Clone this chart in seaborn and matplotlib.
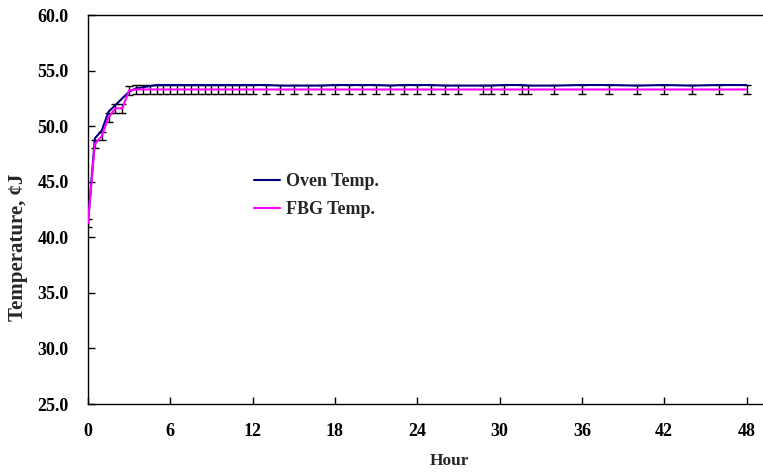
import numpy as np
import pandas as pd
import matplotlib
matplotlib.use('Agg')
import matplotlib.pyplot as plt
import seaborn as sns

# Readings taken off the reference chart
hours = [0, 0.5, 1.0, 1.5, 2.0, 2.5, 3.0, 3.5, 4.0, 4.5, 5.0, 5.5, 6.0, 6.5, 7.0,
         7.5, 8.0, 8.5, 9.0, 9.5, 10.0, 10.5, 11.0, 11.5, 12.0,
         13, 14, 15, 16, 17, 18, 19, 20, 21, 22, 23, 24, 25, 26, 27,
         28.8, 29.4, 30.3, 31.6, 32.1, 34, 36, 38, 40, 42, 44, 46, 48]

oven_temp = [41.3, 48.9, 49.6, 51.3, 51.9, 52.5, 53.1, 53.4, 53.5, 53.6, 53.7, 53.7, 53.7, 53.7, 53.7,
             53.7, 53.7, 53.7, 53.7, 53.7, 53.7, 53.7, 53.7, 53.7, 53.7,
             53.7, 53.65, 53.65, 53.65, 53.65, 53.7, 53.7, 53.7, 53.7, 53.65, 53.7, 53.7, 53.7, 53.65, 53.65,
             53.65, 53.65, 53.7, 53.7, 53.65, 53.65, 53.7, 53.7, 53.65, 53.7, 53.65, 53.7, 53.7]

fbg_temp = [41.3, 48.4, 49.1, 50.8, 51.6, 51.6, 53.2, 53.3, 53.3, 53.3, 53.3, 53.3, 53.3, 53.3, 53.3,
            53.3, 53.3, 53.3, 53.3, 53.3, 53.3, 53.3, 53.3, 53.3, 53.3,
            53.3, 53.3, 53.3, 53.3, 53.3, 53.3, 53.3, 53.3, 53.3, 53.3, 53.3, 53.3, 53.3, 53.3, 53.3,
            53.3, 53.3, 53.3, 53.3, 53.3, 53.3, 53.3, 53.3, 53.3, 53.3, 53.3, 53.3, 53.3]

fbg_err = [0.35, 0.36, 0.36, 0.4, 0.4, 0.4, 0.4, 0.4, 0.4, 0.4, 0.4, 0.4, 0.4, 0.4, 0.4,
           0.4, 0.4, 0.4, 0.4, 0.4, 0.4, 0.4, 0.4, 0.4, 0.4,
           0.4, 0.4, 0.4, 0.4, 0.4, 0.4, 0.4, 0.4, 0.4, 0.4, 0.4, 0.4, 0.4, 0.4, 0.4,
           0.4, 0.4, 0.4, 0.4, 0.4, 0.4, 0.4, 0.4, 0.4, 0.4, 0.4, 0.4, 0.4]

x_ticks = [0, 6, 12, 18, 24, 30, 36, 42, 48]
y_ticks = [25.0, 30.0, 35.0, 40.0, 45.0, 50.0, 55.0, 60.0]

sns.set_style('white')
plt.rcParams['font.family'] = ['Liberation Serif', 'DejaVu Serif']
plt.rcParams['font.weight'] = 'bold'

df = pd.DataFrame({'Hour': hours, 'Oven': oven_temp, 'FBG': fbg_temp})

fig = plt.figure(figsize=(7.63, 4.72), dpi=100)
ax = fig.add_axes([88 / 763, 1 - 404 / 472, 675 / 763, 389 / 472])

# error bars sit on the FBG readings
ax.errorbar(hours, fbg_temp, yerr=fbg_err, fmt='none', ecolor='black',
            elinewidth=1.0, capsize=3, capthick=1.0, zorder=2)
sns.lineplot(data=df, x='Hour', y='Oven', color='#000080', linewidth=1.5,
             label='Oven Temp.', ax=ax, zorder=3)
sns.lineplot(data=df, x='Hour', y='FBG', color='#FF00FF', linewidth=1.5,
             label='FBG Temp.', ax=ax, zorder=4)

ax.set_xlim(0, 49.2)
ax.set_ylim(25, 60)
ax.set_xticks(x_ticks)
ax.set_xticklabels([str(t) for t in x_ticks])
ax.set_yticks(y_ticks)
ax.set_yticklabels([f'{t:.1f}' for t in y_ticks])

for side in ['left', 'bottom', 'top']:
    ax.spines[side].set_color('black')
    ax.spines[side].set_linewidth(1.0)
ax.spines['right'].set_visible(False)

ax.tick_params(axis='both', direction='in', length=5, width=1.0, colors='black',
               labelsize=13)
ax.tick_params(axis='x', pad=14, bottom=True)
ax.tick_params(axis='y', pad=14, left=True)
for lab in ax.get_xticklabels() + ax.get_yticklabels():
    lab.set_fontweight('bold')

ax.set_xlabel('Hour', fontsize=12.5, fontweight='bold')
ax.set_ylabel('Temperature, ¢J', fontsize=15, fontweight='bold')
ax.xaxis.set_label_coords((449 - 88) / 675, -(461 - 404) / 389)
ax.yaxis.set_label_coords((18 - 88) / 675, (404 - 247) / 389)
ax.xaxis.label.set_va('center')
ax.yaxis.label.set_va('center')

leg = ax.legend(loc='upper left', bbox_to_anchor=((254 - 88) / 675, (404 - 173) / 389),
                frameon=False, handlelength=1.45, handletextpad=0.3, labelspacing=0.6,
                borderaxespad=0, borderpad=0, prop={'weight': 'bold', 'size': 13})
for line in leg.get_lines():
    line.set_linewidth(1.5)

fig.savefig('out.png', dpi=100)
